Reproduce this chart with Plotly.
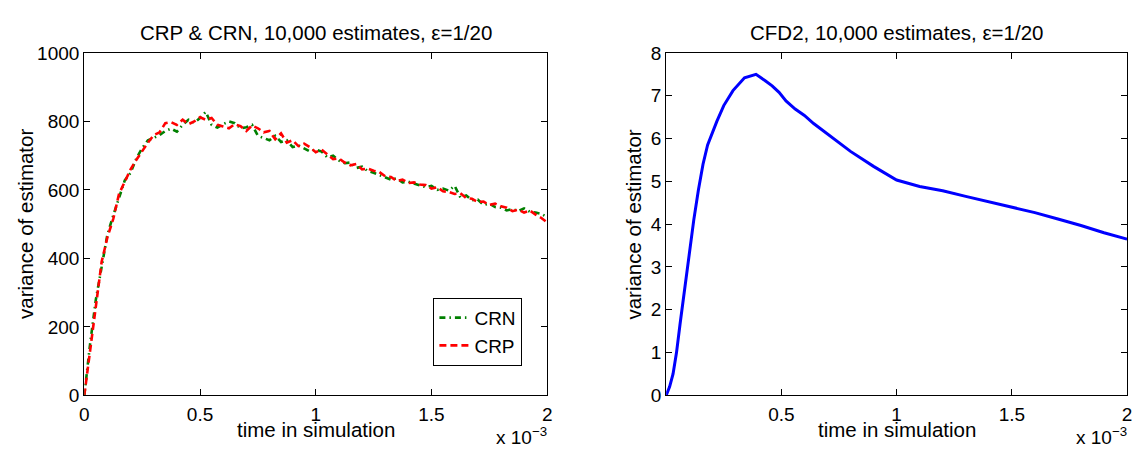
import plotly.graph_objects as go

# ---------------- data (time in units of 1e-3) ----------------
time_lr = [0.000, 0.025, 0.050, 0.075, 0.100, 0.125, 0.150, 0.175, 0.200, 0.225,
           0.250, 0.275, 0.300, 0.325, 0.350, 0.375, 0.400, 0.425, 0.450, 0.475,
           0.500, 0.525, 0.550, 0.575, 0.600, 0.625, 0.650, 0.675, 0.700, 0.725,
           0.750, 0.775, 0.800, 0.825, 0.850, 0.875, 0.900, 0.925, 0.950, 0.975,
           1.000, 1.025, 1.050, 1.075, 1.100, 1.125, 1.150, 1.175, 1.200, 1.225,
           1.250, 1.275, 1.300, 1.325, 1.350, 1.375, 1.400, 1.425, 1.450, 1.475,
           1.500, 1.525, 1.550, 1.575, 1.600, 1.625, 1.650, 1.675, 1.700, 1.725,
           1.750, 1.775, 1.800, 1.825, 1.850, 1.875, 1.900, 1.925, 1.950, 1.975,
           2.000]

crn_var = [0, 150, 280, 380, 470, 525, 575, 628, 650, 692,
           722, 745, 752, 760, 772, 779, 770, 790, 805, 796,
           810, 828, 790, 782, 792, 800, 795, 780, 783, 790,
           758, 752, 745, 758, 740, 745, 725, 730, 720, 712,
           718, 712, 695, 700, 686, 678, 680, 664, 668, 655,
           650, 644, 638, 630, 634, 622, 624, 618, 612, 608,
           612, 600, 604, 598, 612, 578, 584, 570, 572, 556,
           560, 550, 548, 540, 544, 538, 546, 536, 534, 530,
           520]

crp_var = [0, 130, 265, 390, 462, 515, 588, 622, 660, 688,
           715, 738, 760, 768, 795, 798, 790, 805, 792, 800,
           812, 805, 810, 790, 785, 780, 792, 786, 772, 788,
           780, 768, 772, 748, 765, 738, 745, 728, 735, 725,
           710, 718, 704, 690, 692, 680, 672, 676, 660, 662,
           656, 652, 640, 638, 626, 630, 620, 622, 616, 614,
           604, 608, 596, 594, 588, 590, 576, 574, 565, 566,
           556, 560, 552, 548, 538, 542, 534, 540, 528, 518,
           505]

time_cfd = [0.000, 0.015, 0.030, 0.045, 0.060, 0.080, 0.100, 0.120, 0.140, 0.160,
            0.180, 0.200, 0.220, 0.250, 0.290, 0.340, 0.390, 0.430, 0.460, 0.490,
            0.520, 0.560, 0.600, 0.640, 0.700, 0.800, 0.900, 1.000, 1.100, 1.200,
            1.300, 1.400, 1.500, 1.600, 1.700, 1.800, 1.900, 2.000]

cfd_var = [0.00, 0.20, 0.50, 1.00, 1.65, 2.50, 3.30, 4.10, 4.80, 5.40,
           5.85, 6.15, 6.40, 6.77, 7.12, 7.42, 7.50, 7.35, 7.23, 7.08,
           6.88, 6.69, 6.54, 6.35, 6.10, 5.70, 5.35, 5.03, 4.88, 4.78,
           4.65, 4.52, 4.40, 4.27, 4.12, 3.97, 3.80, 3.65]

x_ticks_left = [0, 0.5, 1, 1.5, 2]
x_ticks_right = [0.5, 1, 1.5, 2]
x_tick_text_left = ["0", "0.5", "1", "1.5", "2"]
x_tick_text_right = ["0.5", "1", "1.5", "2"]
y_ticks_left = [0, 200, 400, 600, 800, 1000]
y_ticks_right = [0, 1, 2, 3, 4, 5, 6, 7, 8]

# ---------------- layout helpers ----------------
W, H = 1138, 456
FONT = "Liberation Sans, Arial, Helvetica, sans-serif"
FS_TICK = 19
FS_LABEL = 20.5
FS_LEG = 19


def fx(px):
    return px / W


def fy(py):
    return 1 - py / H


L1, R1 = 80, 547
L2, R2 = 667, 1132
TOP, BOT = 45, 404

fig = go.Figure()

fig.add_trace(go.Scatter(
    x=time_lr, y=crn_var, name="CRN", mode="lines",
    line=dict(color="rgb(0,128,0)", width=2.6, dash="6px,4px,1.5px,4px"),
    xaxis="x", yaxis="y"))
fig.add_trace(go.Scatter(
    x=time_lr, y=crp_var, name="CRP", mode="lines",
    line=dict(color="rgb(255,0,0)", width=2.6, dash="7px,4px"),
    xaxis="x", yaxis="y"))
fig.add_trace(go.Scatter(
    x=time_cfd, y=cfd_var, name="CFD2", mode="lines", showlegend=False,
    line=dict(color="rgb(0,0,255)", width=3),
    xaxis="x2", yaxis="y2"))

axis_common = dict(
    showline=True, linecolor="black", linewidth=1.2, mirror="ticks",
    ticks="inside", ticklen=6, tickwidth=1, tickcolor="black",
    showgrid=False, zeroline=False,
    tickfont=dict(family=FONT, size=FS_TICK, color="black"),
)

fig.update_layout(
    width=W, height=H,
    margin=dict(l=0, r=0, t=0, b=0),
    paper_bgcolor="white", plot_bgcolor="white",
    font=dict(family=FONT, size=FS_TICK, color="black"),
    xaxis=dict(domain=[fx(L1), fx(R1)], range=[0, 2], anchor="y",
               ticklabelstandoff=2,
               tickvals=x_ticks_left, ticktext=x_tick_text_left, **axis_common),
    yaxis=dict(domain=[fy(BOT), fy(TOP)], range=[0, 1000], anchor="x",
               tickvals=y_ticks_left, **axis_common),
    xaxis2=dict(domain=[fx(L2), fx(R2)], range=[0, 2], anchor="y2",
                ticklabelstandoff=2,
                tickvals=x_ticks_right, ticktext=x_tick_text_right, **axis_common),
    yaxis2=dict(domain=[fy(BOT), fy(TOP)], range=[0, 8], anchor="x2",
                tickvals=y_ticks_right, **axis_common),
    showlegend=True,
    legend=dict(
        x=fx(522), y=fy(373), xanchor="right", yanchor="bottom",
        bgcolor="white", bordercolor="black", borderwidth=1,
        font=dict(family=FONT, size=FS_LEG, color="black"),
        tracegroupgap=0, itemwidth=30,
    ),
)

annots = [
    dict(text="CRP & CRN, 10,000 estimates, ε=1/20", x=fx((L1 + R1) / 2), y=fy(24)),
    dict(text="CFD2, 10,000 estimates, ε=1/20", x=fx((L2 + R2) / 2), y=fy(24)),
    dict(text="time in simulation", x=fx((L1 + R1) / 2), y=fy(440)),
    dict(text="time in simulation", x=fx((L2 + R2) / 2), y=fy(440)),
    dict(text="variance of estimator", x=fx(20), y=fy((TOP + BOT) / 2), textangle=-90),
    dict(text="variance of estimator", x=fx(634), y=fy((TOP + BOT) / 2), textangle=-90),
]
for a in annots:
    fig.add_annotation(xref="paper", yref="paper", showarrow=False,
                       xanchor="center", yanchor="middle",
                       font=dict(family=FONT, size=FS_LABEL, color="black"), **a)

for r in (R1, R2):
    fig.add_annotation(xref="paper", yref="paper", showarrow=False,
                       text="x 10<sup>−3</sup>", x=fx(r + 2), y=fy(447),
                       xanchor="right", yanchor="middle",
                       font=dict(family=FONT, size=FS_TICK, color="black"))

fig.write_html("out.html",
               config={"displayModeBar": False},
               post_script="document.body.style.margin='0px';document.body.style.overflow='hidden';")
